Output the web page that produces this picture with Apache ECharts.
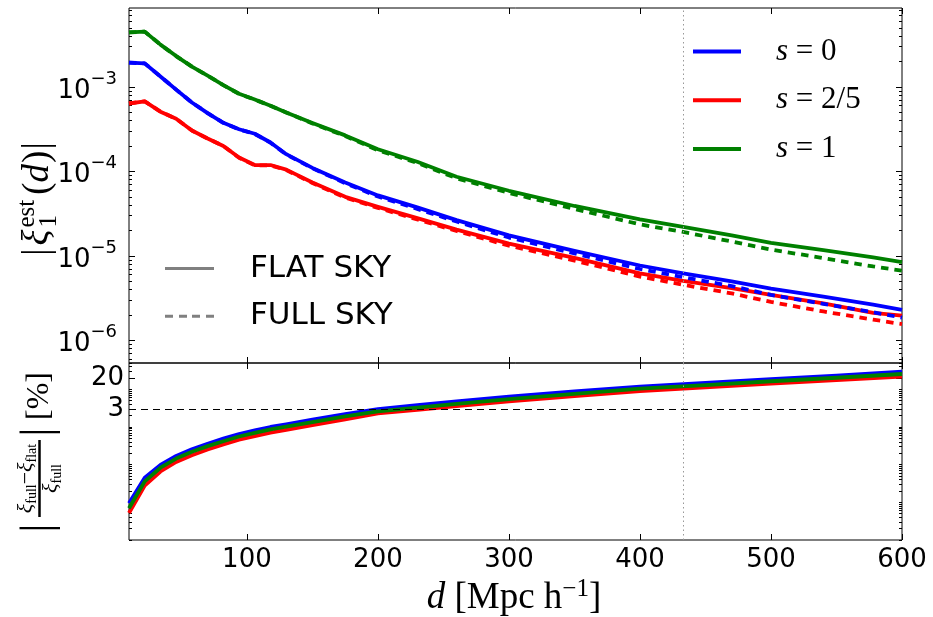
<!DOCTYPE html>
<html><head><meta charset="utf-8">
<script src="https://cdn.jsdelivr.net/npm/echarts@6/dist/echarts.min.js"></script>
<style>html,body{margin:0;padding:0;background:#fff}#c{width:933px;height:617px}</style>
</head><body><div id="c"></div>
<script>
// ---- data ----
const dTop = [10,22,34,46,58,70,82,94,106,118,130,150,175,200,230,260,300,350,400,433,470,500,540,578,600];
const flatS0  = [1.94e-3,1.90e-3,1.33e-3,9.3e-4,6.55e-4,4.9e-4,3.76e-4,3.16e-4,2.79e-4,2.2e-4,1.6e-4,1.1e-4,7.4e-5,5.2e-5,3.75e-5,2.65e-5,1.75e-5,1.15e-5,7.7e-6,6.2e-6,5.0e-6,4.1e-6,3.3e-6,2.65e-6,2.3e-6];
const fullS0  = [1.94e-3,1.90e-3,1.33e-3,9.3e-4,6.55e-4,4.9e-4,3.76e-4,3.15e-4,2.78e-4,2.19e-4,1.59e-4,1.09e-4,7.25e-5,5.05e-5,3.6e-5,2.55e-5,1.65e-5,1.07e-5,7.0e-6,5.6e-6,4.4e-6,3.45e-6,2.7e-6,2.15e-6,1.86e-6];
const flatS25 = [6.37e-4,6.75e-4,5.1e-4,4.2e-4,3.05e-4,2.45e-4,2.0e-4,1.46e-4,1.19e-4,1.19e-4,1.05e-4,7.4e-5,5.0e-5,3.8e-5,2.8e-5,2.05e-5,1.4e-5,9.5e-6,6.2e-6,5.05e-6,4.15e-6,3.45e-6,2.75e-6,2.12e-6,1.96e-6];
const fullS25 = [6.37e-4,6.75e-4,5.1e-4,4.2e-4,3.05e-4,2.45e-4,2.0e-4,1.45e-4,1.18e-4,1.18e-4,1.04e-4,7.3e-5,4.9e-5,3.7e-5,2.7e-5,1.97e-5,1.32e-5,8.8e-6,5.7e-6,4.55e-6,3.6e-6,2.85e-6,2.2e-6,1.76e-6,1.56e-6];
const flatS1  = [4.42e-3,4.52e-3,3.17e-3,2.32e-3,1.74e-3,1.36e-3,1.05e-3,8.3e-4,7.1e-4,6.0e-4,5.0e-4,3.75e-4,2.67e-4,1.83e-4,1.3e-4,8.65e-5,5.9e-5,3.9e-5,2.7e-5,2.2e-5,1.75e-5,1.43e-5,1.17e-5,9.6e-6,8.45e-6];
const fullS1  = [4.42e-3,4.52e-3,3.17e-3,2.32e-3,1.74e-3,1.36e-3,1.05e-3,8.28e-4,7.08e-4,5.98e-4,4.98e-4,3.7e-4,2.62e-4,1.78e-4,1.26e-4,8.3e-5,5.57e-5,3.6e-5,2.36e-5,1.92e-5,1.48e-5,1.19e-5,9.4e-6,7.5e-6,6.7e-6];

const dBot = [10,22,34,46,58,70,82,94,106,118,130,150,175,200,232,260,300,350,400,450,500,550,600];
const pctS0  = [0.0095,0.045,0.098,0.17,0.255,0.36,0.49,0.65,0.81,1.0,1.18,1.57,2.2,3.0,3.85,4.8,6.4,8.8,11.7,14.9,18.5,23.2,29.4];
const pctS25 = [0.0052,0.028,0.066,0.118,0.178,0.252,0.345,0.46,0.575,0.71,0.84,1.12,1.6,2.3,2.9,3.6,4.8,6.6,9.0,11.3,14.1,17.6,21.7];
const pctS1  = [0.0070,0.036,0.083,0.145,0.22,0.31,0.42,0.56,0.70,0.86,1.02,1.35,1.9,2.6,3.3,4.1,5.5,7.6,10.4,12.9,16.4,20.3,25.5];

const xTicks = [100,200,300,400,500,600];
const yTopTicks = [1e-6,1e-5,1e-4,1e-3];
const yBotTicks = [3,20];
const legendNames = ['s=0','s=2/5','s=1'];
const styleNames = ['FLAT SKY','FULL SKY'];
const dMark = 433;
const pctMark = 3;

// minor log ticks
const minorTop = [];
for (let e = -7; e <= -3; e++) for (let m = 2; m <= 9; m++) minorTop.push(+(m * Math.pow(10, e)).toPrecision(3));
const minorBot = [];
for (let e = -3; e <= 1; e++) for (let m = 1; m <= 9; m++) minorBot.push(+(m * Math.pow(10, e)).toPrecision(3));
minorBot.push(40, 50);

const pair = (xs, ys) => xs.map((x, i) => [x, ys[i]]);
const BLUE = '#0000ff', RED = '#ff0000', GREEN = '#008000';
const TOP = {min: 5.4e-7, max: 8.6e-3};
const BOT = {min: 0.001, max: 50};
const SERIF = 'Liberation Serif';

const chart = echarts.init(document.getElementById('c'), null, {renderer: 'canvas'});

function xAx(grid, pos, showLabels) {
  return {
    gridIndex: grid, type: 'value', min: 10, max: 600, position: pos,
    axisLine: {show: false}, splitLine: {show: false},
    axisTick: {show: true, inside: true, length: 6, customValues: xTicks, lineStyle: {color: '#000', width: 1}},
    axisLabel: {show: showLabels, customValues: xTicks, margin: 7, color: '#000',
      fontFamily: 'DejaVu Sans', fontSize: 26}
  };
}
function yAx(grid, rng, pos, ticks, len, label) {
  const a = {
    gridIndex: grid, type: 'log', logBase: 10, min: rng.min, max: rng.max, position: pos,
    axisLine: {show: false}, splitLine: {show: false},
    axisTick: {show: true, inside: true, length: len, customValues: ticks, lineStyle: {color: '#000', width: 1}},
    axisLabel: {show: false}
  };
  if (label) a.axisLabel = Object.assign({show: true, customValues: ticks, color: '#000'}, label);
  return a;
}
const powLabel = {
  margin: 12,
  formatter: v => { const e = Math.round(Math.log10(v)); return '{b|10}{s|' + (e < 0 ? '\u2212' : '') + Math.abs(e) + '}'; },
  rich: {
    b: {fontFamily: 'DejaVu Sans', fontSize: 26, lineHeight: 34, verticalAlign: 'bottom', color: '#000'},
    s: {fontFamily: 'DejaVu Sans', fontSize: 18, lineHeight: 18, verticalAlign: 'top', color: '#000'}
  }
};
const plainLabel = {margin: 5, fontFamily: 'DejaVu Sans', fontSize: 26, formatter: v => String(v)};

function line(name, xs, ys, color, dashed, xi, yi, extra) {
  return Object.assign({
    name, type: 'line', xAxisIndex: xi, yAxisIndex: yi, data: pair(xs, ys),
    symbol: 'none', showSymbol: false, smooth: false, silent: true, color,
    lineStyle: {color, width: 3.8, type: dashed ? [7.5, 6] : 'solid', cap: 'butt', join: 'round'}
  }, extra || {});
}
const vline = {xAxis: dMark, lineStyle: {type: [1.5, 3], color: '#999', width: 1}};

// ---- top y title, laid out piece by piece (sup over sub) ----
const mctx = document.createElement('canvas').getContext('2d');
function tw(style, size, s) { mctx.font = style + ' ' + size + 'px "' + SERIF + '"'; return mctx.measureText(s).width; }
const TS = 37, SS = 25;
const topPieces = [];
(function () {
  const items = [
    {t: '|', st: 'normal', gap: 3},
    {t: '\u03be', st: 'italic', gap: 2},
    {stack: true, gap: 5},
    {t: '(', st: 'normal', gap: 0},
    {t: 'd', st: 'italic', gap: 1},
    {t: ')', st: 'normal', gap: 1},
    {t: '|', st: 'normal', gap: 0}
  ];
  let w = 0;
  items.forEach(it => {
    it.w = it.stack ? Math.max(tw('normal', SS, 'est'), tw('normal', SS, '1')) : tw(it.st, TS, it.t);
    w += it.w + it.gap;
  });
  let x = -w / 2;
  items.forEach(it => {
    if (it.stack) {
      topPieces.push({type: 'text', x: x, y: -11, style: {text: 'est', fontFamily: SERIF, fontSize: SS, align: 'left', verticalAlign: 'middle', fill: '#000'}});
      topPieces.push({type: 'text', x: x, y: 11, style: {text: '1', fontFamily: SERIF, fontSize: SS, align: 'left', verticalAlign: 'middle', fill: '#000'}});
    } else {
      topPieces.push({type: 'text', x: x, y: 0, style: {text: it.t, fontFamily: SERIF, fontStyle: it.st, fontSize: TS, align: 'left', verticalAlign: 'middle', fill: '#000'}});
    }
    x += it.w + it.gap;
  });
})();

const fracRich = {
  x: {fontFamily: SERIF, fontStyle: 'italic', fontSize: 22, lineHeight: 24, verticalAlign: 'top', fill: '#000'},
  s: {fontFamily: SERIF, fontSize: 14, lineHeight: 14, verticalAlign: 'bottom', fill: '#000'},
  m: {fontFamily: SERIF, fontSize: 22, lineHeight: 24, verticalAlign: 'top', fill: '#000'}
};

const option = {
  animation: false,
  backgroundColor: '#fff',
  grid: [
    {left: 129, width: 773, top: 8, height: 355, show: true, borderColor: '#000', borderWidth: 1, backgroundColor: 'transparent'},
    {left: 129, width: 773, top: 363, height: 177, show: true, borderColor: '#000', borderWidth: 1, backgroundColor: 'transparent'}
  ],
  xAxis: [xAx(0, 'bottom', false), xAx(0, 'top', false), xAx(1, 'bottom', true), xAx(1, 'top', false)],
  yAxis: [
    yAx(0, TOP, 'left', yTopTicks, 6, powLabel),
    yAx(0, TOP, 'left', minorTop, 3),
    yAx(0, TOP, 'right', yTopTicks, 6),
    yAx(0, TOP, 'right', minorTop, 3),
    yAx(1, BOT, 'left', yBotTicks, 6, plainLabel),
    yAx(1, BOT, 'left', minorBot, 3),
    yAx(1, BOT, 'right', yBotTicks, 6),
    yAx(1, BOT, 'right', minorBot, 3)
  ],
  legend: [
    {
      data: legendNames.map(n => ({name: n, icon: 'rect'})),
      orient: 'vertical', left: 693, top: 36, padding: 0, itemWidth: 48, itemHeight: 4, itemGap: 17.7,
      selectedMode: false,
      formatter: n => '{i|s}{r| = ' + n.split('=')[1] + '}',
      textStyle: {padding: [0, 0, 0, 30], lineHeight: 30, rich: {
        i: {fontFamily: SERIF, fontStyle: 'italic', fontSize: 31, lineHeight: 30, color: '#000'},
        r: {fontFamily: SERIF, fontSize: 31, lineHeight: 30, color: '#000'}
      }}
    },
    {
      data: [{name: styleNames[0], icon: 'rect'},
             {name: styleNames[1], icon: 'path://M0,0h8v3h-8z M14,0h8v3h-8z M27,0h8v3h-8z M41,0h8v3h-8z'}],
      orient: 'vertical', left: 165, top: 253, padding: 0, itemWidth: 49, itemHeight: 3, itemGap: 16.7,
      selectedMode: false,
      textStyle: {fontFamily: 'DejaVu Sans', fontSize: 31, lineHeight: 31, color: '#000', padding: [0, 0, 0, 31]}
    }
  ],
  series: [
    line(legendNames[0], dTop, flatS0, BLUE, false, 0, 0, {
      markLine: {silent: true, symbol: 'none', label: {show: false}, data: [vline]}
    }),
    line(legendNames[1], dTop, flatS25, RED, false, 0, 0),
    line(legendNames[2], dTop, flatS1, GREEN, false, 0, 0),
    line('s=0 full', dTop, fullS0, BLUE, true, 0, 0),
    line('s=2/5 full', dTop, fullS25, RED, true, 0, 0),
    line('s=1 full', dTop, fullS1, GREEN, true, 0, 0),
    {name: styleNames[0], type: 'line', data: [], xAxisIndex: 0, yAxisIndex: 0, color: '#808080'},
    {name: styleNames[1], type: 'line', data: [], xAxisIndex: 0, yAxisIndex: 0, color: '#808080'},
    line('s=0 pct', dBot, pctS0, BLUE, false, 2, 4, {
      markLine: {silent: true, symbol: 'none', label: {show: false}, data: [
        vline,
        {yAxis: pctMark, lineStyle: {type: [7, 5], color: '#000', width: 1}}
      ]}
    }),
    line('s=2/5 pct', dBot, pctS25, RED, false, 2, 4),
    line('s=1 pct', dBot, pctS1, GREEN, false, 2, 4)
  ],
  graphic: [
    // x-axis title
    {type: 'text', x: 514, y: 597, silent: true, style: {
      text: '{it|d}{r| [Mpc h}{sup|\u22121}{r|]}', align: 'center', verticalAlign: 'middle',
      rich: {
        it: {fontFamily: SERIF, fontStyle: 'italic', fontSize: 37, lineHeight: 40, verticalAlign: 'bottom', fill: '#000'},
        r: {fontFamily: SERIF, fontSize: 37, lineHeight: 40, verticalAlign: 'bottom', fill: '#000'},
        sup: {fontFamily: SERIF, fontSize: 25, lineHeight: 25, verticalAlign: 'top', fill: '#000'}
      }}},
    // top y-axis title
    {type: 'group', x: 38, y: 199, rotation: Math.PI / 2, silent: true, children: topPieces},
    // bottom y-axis title (rotated fraction)
    {type: 'group', x: 39.5, y: 447, rotation: Math.PI / 2, silent: true, children: [
      {type: 'text', x: -81, y: 0, style: {text: '|', fontFamily: SERIF, fontSize: 44, align: 'center', verticalAlign: 'middle', fill: '#000'}},
      {type: 'text', x: -31.5, y: -12, style: {text: '{x|\u03be}{s|full}{m|\u2212}{x|\u03be}{s|flat}', align: 'center', verticalAlign: 'middle', rich: fracRich}},
      {type: 'line', shape: {x1: -70, y1: 0, x2: 7, y2: 0}, style: {stroke: '#000', lineWidth: 2.5}},
      {type: 'text', x: -31.5, y: 13, style: {text: '{x|\u03be}{s|full}', align: 'center', verticalAlign: 'middle', rich: fracRich}},
      {type: 'text', x: 15, y: 0, style: {text: '|', fontFamily: SERIF, fontSize: 44, align: 'center', verticalAlign: 'middle', fill: '#000'}},
      {type: 'text', x: 51, y: 0, style: {text: '[%]', fontFamily: SERIF, fontSize: 32, align: 'center', verticalAlign: 'middle', fill: '#000'}}
    ]}
  ]
};
chart.setOption(option);
</script>
</body></html>
